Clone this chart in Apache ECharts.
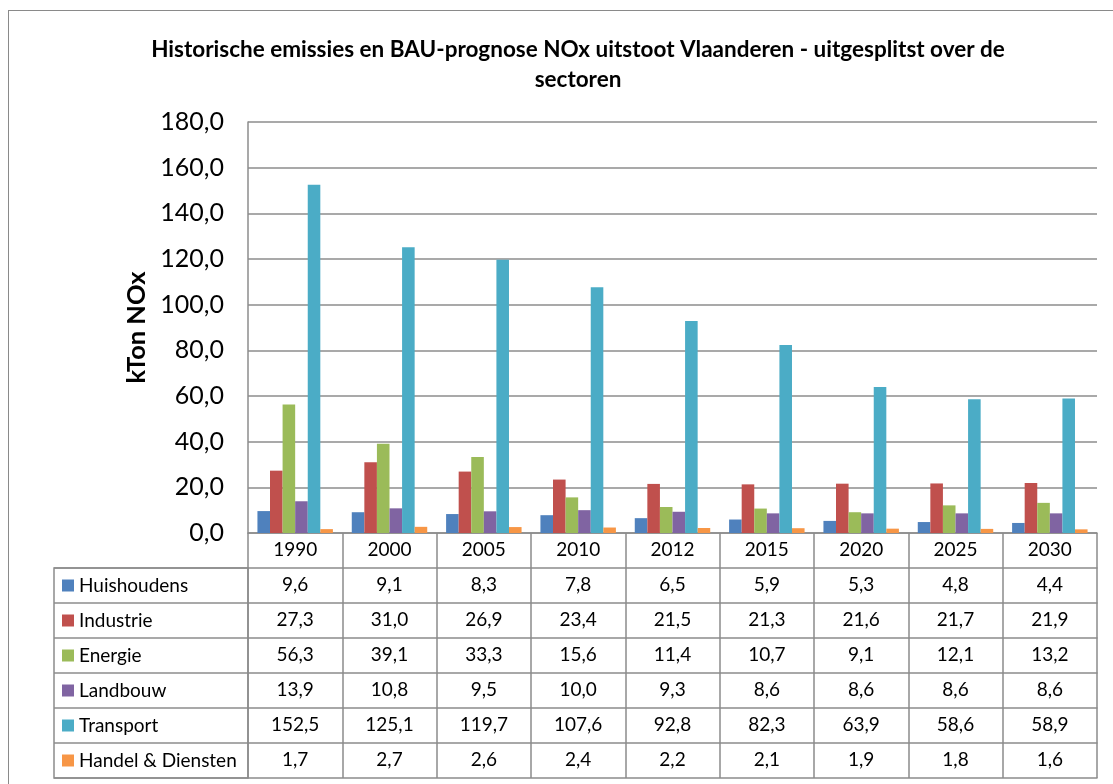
<!DOCTYPE html>
<html>
<head>
<meta charset="utf-8">
<script src="https://cdn.jsdelivr.net/npm/echarts@6/dist/echarts.min.js"></script>
<style>
  html, body { margin: 0; padding: 0; background: #fff; }
  #wrap { position: relative; width: 1113px; height: 784px; overflow: hidden; background: #fff; }
  #frame { position: absolute; left: 8px; top: 10px; width: 1200px; height: 900px; border: 1.5px solid #8a8a8a; box-sizing: border-box; pointer-events: none; z-index: 2; }
  #chart { position: absolute; left: 0; top: 0; width: 1113px; height: 784px; z-index: 1; }
</style>
</head>
<body>
<div id="wrap">
  <div id="chart"></div>
  <div id="frame"></div>
</div>
<script>
// ---- data ----
const years = ['1990', '2000', '2005', '2010', '2012', '2015', '2020', '2025', '2030'];
const sectorNames = ['Huishoudens', 'Industrie', 'Energie', 'Landbouw', 'Transport', 'Handel & Diensten'];
const huishoudens = [9.6, 9.1, 8.3, 7.8, 6.5, 5.9, 5.3, 4.8, 4.4];
const industrie = [27.3, 31.0, 26.9, 23.4, 21.5, 21.3, 21.6, 21.7, 21.9];
const energie = [56.3, 39.1, 33.3, 15.6, 11.4, 10.7, 9.1, 12.1, 13.2];
const landbouw = [13.9, 10.8, 9.5, 10.0, 9.3, 8.6, 8.6, 8.6, 8.6];
const transport = [152.5, 125.1, 119.7, 107.6, 92.8, 82.3, 63.9, 58.6, 58.9];
const handel = [1.7, 2.7, 2.6, 2.4, 2.2, 2.1, 1.9, 1.8, 1.6];
const yTicks = { min: 0, max: 180, interval: 20 };

const seriesValues = [huishoudens, industrie, energie, landbouw, transport, handel];
const colors = ['#4F81BD', '#C0504D', '#9BBB59', '#8064A2', '#4BACC6', '#F79646'];
const lineColor = '#8c8c8c';
const FONT = 'Lato';
const ROW = 35;

const fmt = v => v.toFixed(1).replace('.', ',');

const chart = echarts.init(document.getElementById('chart'), null, { renderer: 'canvas' });

// x axes: year row, one row per sector, and a closing line
const xAxes = [];
xAxes.push({
  type: 'category', gridIndex: 0, data: years, position: 'bottom', offset: 0,
  axisLine: { lineStyle: { color: lineColor, width: 1.5 } },
  axisTick: { show: true, interval: 0, length: ROW, inside: false, lineStyle: { color: lineColor, width: 1.5 } },
  axisLabel: { interval: 0, margin: 17, verticalAlign: 'middle', color: '#000', fontFamily: FONT, fontSize: 19 },
  splitLine: { show: false }
});
seriesValues.forEach((vals, k) => {
  xAxes.push({
    type: 'category', gridIndex: 0, data: vals.map(fmt), position: 'bottom', offset: ROW * (k + 1),
    axisLine: { lineStyle: { color: lineColor, width: 1.5 } },
    axisTick: { show: true, interval: 0, length: ROW, inside: false, lineStyle: { color: lineColor, width: 1.5 } },
    axisLabel: { interval: 0, margin: 17, verticalAlign: 'middle', color: '#000', fontFamily: FONT, fontSize: 19 },
    axisPointer: { show: false }
  });
});
xAxes.push({
  type: 'category', gridIndex: 0, data: years, position: 'bottom', offset: ROW * 7,
  axisLine: { lineStyle: { color: lineColor, width: 1.5 } },
  axisTick: { show: false }, axisLabel: { show: false }
});
// hidden x axis for the legend-key column grid
xAxes.push({ type: 'value', gridIndex: 1, show: false });

const rich = { t: { fontFamily: FONT, fontSize: 19, color: '#000', padding: [0, 0, 0, 5] } };
colors.forEach((c, i) => { rich['s' + i] = { width: 12, height: 12, backgroundColor: c }; });

const option = {
  animation: false,
  backgroundColor: 'transparent',
  title: {
    text: 'Historische emissies en BAU-prognose NOx uitstoot Vlaanderen - uitgesplitst over de\nsectoren',
    left: 573, top: 30, textAlign: 'center',
    textStyle: { fontFamily: FONT, fontWeight: 'bold', fontSize: 22.5, color: '#000', lineHeight: 30 }
  },
  grid: [
    { left: 248, top: 122, width: 849, height: 411, show: false },
    { left: 54, top: 568, width: 194, height: 210, show: true, borderColor: lineColor, borderWidth: 1.5, backgroundColor: 'transparent' }
  ],
  xAxis: xAxes,
  yAxis: [
    {
      type: 'value', gridIndex: 0, min: yTicks.min, max: yTicks.max, interval: yTicks.interval,
      name: 'kTon NOx', nameLocation: 'middle', nameGap: 97, nameRotate: 90,
      nameTextStyle: { fontFamily: FONT, fontWeight: 'bold', fontSize: 25.5, color: '#000' },
      axisLine: { show: true, lineStyle: { color: lineColor, width: 1.5 } },
      axisTick: { show: false },
      splitLine: { show: true, lineStyle: { color: lineColor, width: 1.5 } },
      axisLabel: { margin: 24, color: '#000', fontFamily: FONT, fontSize: 25, formatter: v => fmt(v) }
    },
    {
      type: 'category', gridIndex: 1, data: sectorNames, inverse: true,
      axisLine: { show: false }, axisTick: { show: false },
      splitLine: { show: true, interval: 0, lineStyle: { color: lineColor, width: 1.5 } },
      axisLabel: {
        inside: true, margin: 8, align: 'left', interval: 0,
        formatter: (v, i) => '{s' + i + '|}{t|' + v + '}', rich: rich
      }
    }
  ],
  series: sectorNames.map((name, i) => ({
    name: name, type: 'bar', xAxisIndex: 0, yAxisIndex: 0,
    data: seriesValues[i],
    itemStyle: { color: colors[i] },
    barGap: '0%', barCategoryGap: '20%'
  }))
};
chart.setOption(option);
</script>
</body>
</html>
